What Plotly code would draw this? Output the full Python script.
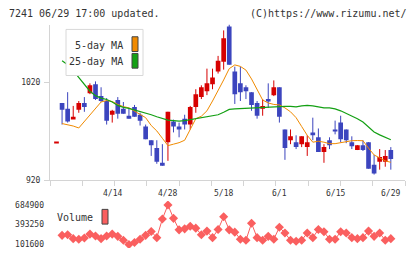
import plotly.graph_objects as go
import numpy as np

title_left = "7241 06/29 17:00 updated."
title_right = "(C)https://www.rizumu.net/"

opens = [958, 999, 993, 983, 992, 999, 1009, 1018, 1006, 1001,
         987, 1002, 993, 986, 995, 987, 975, 961, 953, 938,
         959, 980, 975, 983, 977, 995, 1005, 1011, 1018, 1031,
         1041, 1077, 1031, 1019, 1015, 1010, 999, 993, 1003, 1007,
         1015, 972, 961, 959, 957, 954, 969, 964, 949, 961,
         972, 979, 972, 959, 951, 956, 959, 936, 939, 939, 951]
highs = [958, 999, 1010, 996, 1001, 1005, 1019, 1021, 1015, 1004,
         992, 1005, 1000, 994, 997, 989, 977, 961, 961, 957,
         990, 982, 979, 987, 996, 1013, 1017, 1034, 1034, 1047,
         1073, 1079, 1036, 1036, 1017, 1010, 1001, 1003, 1019, 1022,
         1015, 972, 972, 966, 965, 966, 984, 973, 957, 964,
         981, 986, 972, 965, 956, 961, 959, 946, 952, 951, 954]
lows = [958, 977, 979, 983, 989, 990, 1008, 1002, 1000, 977,
        979, 983, 988, 983, 985, 976, 962, 945, 937, 935,
        940, 969, 964, 972, 972, 989, 1003, 1007, 1013, 1029,
        1033, 1038, 998, 1001, 1003, 991, 983, 986, 994, 1006,
        979, 941, 957, 952, 954, 945, 961, 949, 938, 952,
        967, 959, 958, 952, 951, 950, 932, 926, 931, 934, 931]
closes = [958, 992, 980, 985, 999, 995, 1017, 1003, 1001, 981,
          991, 988, 988, 983, 985, 981, 962, 956, 939, 935,
          990, 975, 972, 977, 995, 1008, 1015, 1019, 1025, 1042,
          1065, 1038, 1008, 1010, 1011, 997, 986, 996, 1001, 1015,
          985, 953, 965, 954, 965, 959, 966, 949, 954, 956,
          970, 962, 961, 955, 956, 951, 932, 927, 944, 945, 942]
ma5 = [None, 978, 977, 975.5, 973.5, 980, 987, 994, 1000, 1001.5,
       1000.5, 997.5, 995.3, 994, 990.7, 988, 984, 976, 970.5, 963,
       955.5, 957, 958.5, 961, 972, 983, 985.5, 991, 1001, 1011,
       1022.5, 1034, 1037.8, 1036.3, 1032.5, 1023.5, 1012.5, 1002, 999, 997.5,
       997, 994, 990, 984, 975, 966, 959, 960, 959, 957.5,
       957.5, 958.5, 960, 960.5, 960.7, 960.5, 953, 946, 943, 940, 938.5]
ma25 = [None, 1042, 1038, 1032, 1025, 1017, 1011, 1006.5, 1004, 1002.5,
        1000, 996.5, 994.5, 993.5, 992, 990.5, 988.5, 987, 985, 983.5,
        981.5, 981, 980.5, 981, 982, 982.5, 984, 984.5, 985.5, 987,
        989.5, 992.5, 993, 993.3, 993.5, 994, 994, 994.5, 994.5, 995.5,
        995.5, 995.5, 995.5, 995, 996, 996.5, 996, 995, 994, 994,
        993, 991, 988.5, 986, 983, 979.5, 974, 969.5, 966.5, 964, 961.5]
volume = [None, 233000, 242000, 184000, 175000, 194000, 252000, 223000, 184000, 223000,
          252000, 218000, 160000, 97000, 126000, 174000, 233000, 291000, 199000, 476000,
          685000, 486000, 315000, 330000, 369000, 340000, 243000, 296000, 199000, 320000,
          510000, 315000, 281000, 175000, 160000, 413000, 199000, 160000, 218000, 175000,
          354000, 267000, 160000, 145000, 160000, 267000, 199000, 320000, 286000, 175000,
          175000, 286000, 267000, 199000, 184000, 199000, 296000, 218000, 267000, 160000, 184000]
date_labels = ["4/14", "4/28", "5/18", "6/1", "6/15", "6/29"]
date_label_idx = [10, 20, 30, 40, 50, 60]
price_ticks = [920, 1020]
volume_ticks = [101600, 393250, 684900]

W, H = 420, 259
def px(x):
    return x / W
def py(y):
    return 1 - y / H

RED = "#d70000"
BLUE = "#3c45be"
ORANGE = "#f08a00"
GREEN = "#14a014"
VOLC = "#fa5f5f"
MONO = "DejaVu Sans Mono"

idx = list(range(len(closes)))
XMIN, XMAX = -1.167, 62.545

fig = go.Figure()

for is_up, col in [(True, RED), (False, BLUE)]:
    wx, wy = [], []
    bx, bbase, bh = [], [], []
    for i in idx:
        o, c = opens[i], closes[i]
        if (c >= o) != is_up:
            continue
        wx += [i, i, None]
        wy += [lows[i], highs[i], None]
        bx.append(i)
        bbase.append(min(o, c))
        bh.append(max(abs(c - o), 1.0))
    fig.add_trace(go.Scatter(x=wx, y=wy, mode="lines", line=dict(color=col, width=1),
                             hoverinfo="skip", showlegend=False, xaxis="x", yaxis="y"))
    fig.add_trace(go.Bar(x=bx, y=bh, base=bbase, width=0.84, marker=dict(color=col, line=dict(width=0)),
                         showlegend=False, xaxis="x", yaxis="y"))

fig.add_trace(go.Scatter(x=idx, y=ma5, mode="lines", line=dict(color=ORANGE, width=1),
                         showlegend=False, xaxis="x", yaxis="y"))
fig.add_trace(go.Scatter(x=idx, y=ma25, mode="lines", line=dict(color=GREEN, width=1.2),
                         showlegend=False, xaxis="x", yaxis="y"))

fig.add_trace(go.Scatter(x=idx, y=volume, mode="lines+markers",
                         line=dict(color=VOLC, width=1),
                         marker=dict(symbol="diamond", size=7, color=VOLC),
                         showlegend=False, xaxis="x2", yaxis="y2"))

axis_grey = "#d4d4d4"
fig.update_layout(
    width=W, height=H,
    margin=dict(l=0, r=0, t=0, b=0),
    paper_bgcolor="white", plot_bgcolor="white",
    barmode="overlay",
    showlegend=False,
    xaxis=dict(domain=[px(50), px(405)], range=[XMIN, XMAX],
               tickvals=list(np.linspace(XMIN, XMAX, 12)), ticktext=[""] * 12,
               ticks="outside", ticklen=5, tickcolor=axis_grey, tickwidth=1,
               showline=True, linecolor=axis_grey, linewidth=1,
               showgrid=False, zeroline=False, anchor="y"),
    yaxis=dict(domain=[py(184), py(25)], range=[920, 1079],
               tickvals=price_ticks, ticktext=[str(t) for t in price_ticks],
               ticks="outside", ticklen=5, tickcolor=axis_grey, ticklabelstandoff=2,
               tickfont=dict(family=MONO, size=8, color="#333"),
               showline=True, linecolor=axis_grey, linewidth=1,
               showgrid=False, zeroline=False, anchor="x"),
    xaxis2=dict(domain=[px(50), px(405)], range=[XMIN, XMAX], matches="x",
                showticklabels=False, ticks="", showline=False, showgrid=False,
                zeroline=False, anchor="y2"),
    yaxis2=dict(domain=[py(253), py(205)], range=[101600 - 4 * 14582.5, 684900 + 4 * 14582.5],
                tickvals=volume_ticks, ticktext=[str(t) for t in volume_ticks],
                ticks="", ticklabelstandoff=5,
                tickfont=dict(family=MONO, size=8, color="#333"),
                showline=False, showgrid=False, zeroline=False, anchor="x2"),
)

ann = []
ann.append(dict(text=title_left, x=px(7), y=py(14), xref="paper", yref="paper",
                xanchor="left", yanchor="middle", showarrow=False,
                font=dict(family=MONO, size=10, color="#333")))
ann.append(dict(text=title_right, x=px(409), y=py(14), xref="paper", yref="paper",
                xanchor="right", yanchor="middle", showarrow=False,
                font=dict(family=MONO, size=10, color="#333")))
for lab, i in zip(date_labels, date_label_idx):
    ann.append(dict(text=lab, x=i, y=py(197), xref="x", yref="paper",
                    xanchor="center", yanchor="middle", showarrow=False,
                    font=dict(family=MONO, size=8, color="#333")))
ann.append(dict(text="5-day MA", x=px(125), y=py(46), xref="paper", yref="paper",
                xanchor="right", yanchor="middle", showarrow=False,
                font=dict(family=MONO, size=10, color="#333")))
ann.append(dict(text="25-day MA", x=px(125), y=py(63), xref="paper", yref="paper",
                xanchor="right", yanchor="middle", showarrow=False,
                font=dict(family=MONO, size=10, color="#333")))
ann.append(dict(text="Volume", x=px(95), y=py(222), xref="paper", yref="paper",
                xanchor="right", yanchor="middle", showarrow=False,
                font=dict(family=MONO, size=10, color="#333")))
fig.update_layout(annotations=ann)

shapes = []
shapes.append(dict(type="rect", xref="paper", yref="paper", x0=px(66), x1=px(143), y0=py(77), y1=py(30),
                   fillcolor="white", line=dict(color="#d8d8d8", width=1), layer="above"))
shapes.append(dict(type="rect", xref="paper", yref="paper", x0=px(132), x1=px(138), y0=py(52.5), y1=py(37.5),
                   fillcolor=ORANGE, line=dict(color="#444", width=1), layer="above"))
shapes.append(dict(type="rect", xref="paper", yref="paper", x0=px(132), x1=px(138), y0=py(69.5), y1=py(54.5),
                   fillcolor=GREEN, line=dict(color="#444", width=1), layer="above"))
shapes.append(dict(type="rect", xref="paper", yref="paper", x0=px(102), x1=px(108), y0=py(228.5), y1=py(213.5),
                   fillcolor=VOLC, line=dict(color="#444", width=1), layer="above"))
fig.update_layout(shapes=shapes)

fig.write_html("out.html")
